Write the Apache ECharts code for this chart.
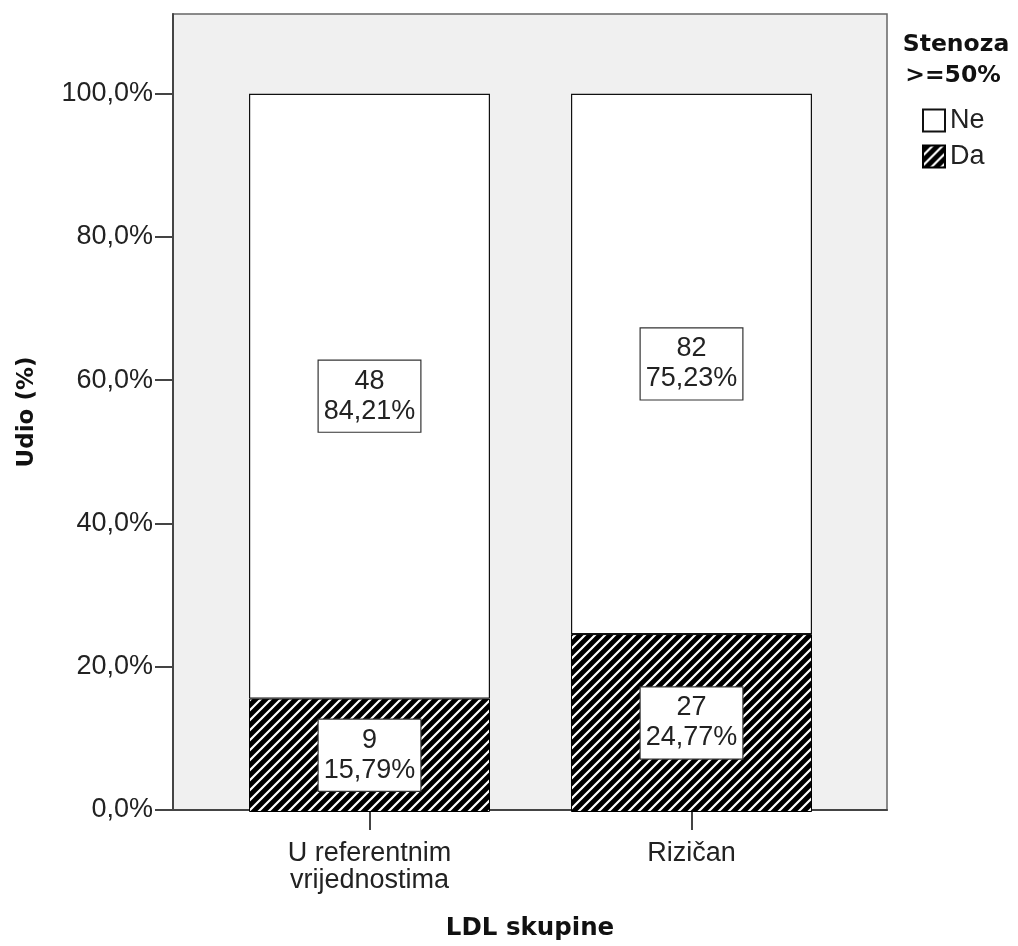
<!DOCTYPE html>
<html>
<head>
<meta charset="utf-8">
<script src="https://cdn.jsdelivr.net/npm/echarts@6/dist/echarts.min.js"></script>
<style>html,body{margin:0;padding:0;background:#fff}#c{width:1018px;height:946px}</style>
</head>
<body>
<div id="c"></div>
<script>
const categories = ['U referentnim\nvrijednostima', 'Rizičan'];
const seriesNames = ['Ne', 'Da'];
const neCounts = [48, 82];
const daCounts = [9, 27];
const nePct = [84.21, 75.23];
const daPct = [15.79, 24.77];
const yTicks = [0, 20, 40, 60, 80, 100];

function makePattern() {
  const c = document.createElement('canvas');
  c.width = 10; c.height = 10;
  const g = c.getContext('2d');
  g.fillStyle = '#000';
  g.fillRect(0, 0, 10, 10);
  g.strokeStyle = '#fff';
  g.lineWidth = 2.2;
  g.beginPath();
  g.moveTo(-1, 11); g.lineTo(11, -1);
  g.moveTo(-6, 6); g.lineTo(6, -6);
  g.moveTo(4, 16); g.lineTo(16, 4);
  g.stroke();
  return c;
}
const hatch = { image: makePattern(), repeat: 'repeat' };

const FONT = 'Liberation Sans, Arial, sans-serif';
const BOLD = 'DejaVu Sans, Verdana, sans-serif';
const fmt = v => v.toFixed(2).replace('.', ',') + '%';
const Y_MAX = 111.1;

const labelStyle = {
  show: true,
  position: 'inside',
  fontFamily: FONT,
  fontSize: 27,
  lineHeight: 30,
  color: '#222',
  backgroundColor: '#fff',
  borderColor: '#333',
  borderWidth: 1.2,
  padding: [6, 5, 5, 5]
};

const chart = echarts.init(document.getElementById('c'), null, { renderer: 'canvas' });
chart.setOption({
  animation: false,
  backgroundColor: '#fff',
  grid: [
    { left: 173, top: 14, right: 131, bottom: 134,
      show: true, backgroundColor: '#f0f0f0', borderColor: '#666', borderWidth: 1.5 },
    { left: 208.5, top: 14, right: 165.5, bottom: 134 }
  ],
  title: [
    { text: 'Stenoza', left: 951, top: 28, textAlign: 'center',
      textStyle: { fontFamily: BOLD, fontWeight: 'bold', fontSize: 23.5, color: '#111' } },
    { text: '>=50%', left: 948, top: 59, textAlign: 'center',
      textStyle: { fontFamily: BOLD, fontWeight: 'bold', fontSize: 23.5, color: '#111' } }
  ],
  legend: {
    data: seriesNames,
    orient: 'vertical',
    left: 922, top: 107,
    padding: 0,
    itemWidth: 22, itemHeight: 22, itemGap: 9,
    icon: 'rect',
    selectedMode: false,
    textStyle: { fontFamily: FONT, fontSize: 27, color: '#222' }
  },
  xAxis: [
    {
      gridIndex: 0, type: 'value', min: 0, max: 1,
      name: 'LDL skupine',
      nameLocation: 'middle',
      nameGap: 106,
      nameTextStyle: { fontFamily: BOLD, fontWeight: 'bold', fontSize: 24.5, color: '#111' },
      splitLine: { show: false },
      axisLine: { show: true, onZero: false, lineStyle: { color: '#444', width: 2 } },
      axisTick: { show: false },
      axisLabel: { show: false }
    },
    {
      gridIndex: 1, type: 'category', data: categories, boundaryGap: true,
      splitLine: { show: false },
      axisLine: { show: false },
      axisTick: { show: true, alignWithLabel: true, length: 18, lineStyle: { color: '#444', width: 2 } },
      axisLabel: {
        margin: 28,
        fontFamily: FONT, fontSize: 27, lineHeight: 27, color: '#222'
      }
    }
  ],
  yAxis: [
    {
      gridIndex: 0, type: 'value', min: 0, max: Y_MAX,
      name: 'Udio (%)',
      nameLocation: 'middle',
      nameGap: 134,
      nameRotate: 90,
      nameTextStyle: { fontFamily: BOLD, fontWeight: 'bold', fontSize: 23, color: '#111' },
      splitLine: { show: false },
      axisLine: { show: true, onZero: false, lineStyle: { color: '#444', width: 2 } },
      axisTick: { show: true, length: 18, customValues: yTicks, lineStyle: { color: '#444', width: 2 } },
      axisLabel: {
        customValues: yTicks,
        margin: 20,
        fontFamily: FONT, fontSize: 27, color: '#222',
        formatter: v => v.toFixed(1).replace('.', ',') + '%'
      }
    },
    {
      gridIndex: 1, type: 'value', min: 0, max: Y_MAX, show: false,
      splitLine: { show: false }
    }
  ],
  series: [
    {
      name: 'Da', type: 'bar', stack: 's', barWidth: 241,
      xAxisIndex: 1, yAxisIndex: 1,
      data: daPct,
      itemStyle: { color: hatch, borderColor: '#000', borderWidth: 1 },
      label: Object.assign({}, labelStyle, {
        formatter: p => daCounts[p.dataIndex] + '\n' + fmt(daPct[p.dataIndex])
      })
    },
    {
      name: 'Ne', type: 'bar', stack: 's', barWidth: 241,
      xAxisIndex: 1, yAxisIndex: 1,
      data: nePct,
      itemStyle: { color: '#fff', borderColor: '#111', borderWidth: 1.2 },
      label: Object.assign({}, labelStyle, {
        formatter: p => neCounts[p.dataIndex] + '\n' + fmt(nePct[p.dataIndex])
      })
    }
  ]
});
</script>
</body>
</html>
